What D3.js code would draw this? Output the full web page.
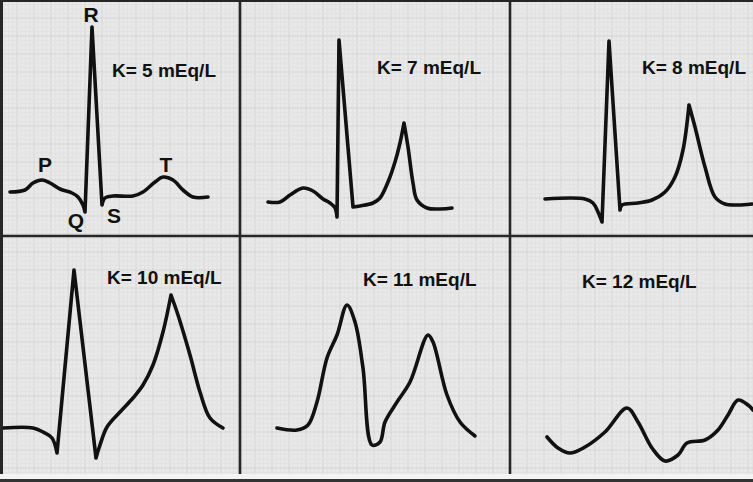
<!DOCTYPE html>
<html>
<head>
<meta charset="utf-8">
<script src="https://cdn.jsdelivr.net/npm/d3@7"></script>
<style>
  body { margin: 0; background: #fff; }
  svg { display: block; }
  text { font-family: "Liberation Sans", Arial, sans-serif; font-weight: bold; fill: #111; }
</style>
</head>
<body>
<svg id="chart" width="753" height="482"></svg>
<script>
var width = 753, height = 482;

// potassium level of each panel, left to right, top to bottom
var kLevels = [5, 7, 8, 10, 11, 12];
var kLabels = ["K= 5 mEq/L", "K= 7 mEq/L", "K= 8 mEq/L", "K= 10 mEq/L", "K= 11 mEq/L", "K= 12 mEq/L"];

// traces: [time ms from panel left, amplitude mV above isoelectric line]
var k5 = [[100,0.05],[250,0.1],[330,0.275],[420,0.35],[500,0.275],[600,0.125],[720,0.025],[780,-0.075],
  [830,-0.275],[850,-0.45],[920,4.175],[1020,-0.275],[1050,-0.1],[1130,-0.05],[1330,-0.05],[1430,0.05],
  [1550,0.3],[1630,0.425],[1730,0.35],[1830,0.1],[1930,-0.075],[2080,-0.075]];
var k7 = [[280,0.075],[400,0.075],[500,0.25],[630,0.425],[730,0.35],[830,0.15],[900,0.05],[950,-0.075],
  [970,-0.3],[990,4.125],[1130,-0.05],[1200,-0.025],[1330,0.05],[1400,0.175],[1480,0.575],[1550,1.075],
  [1600,1.55],[1640,2.05],[1680,1.45],[1730,0.55],[1770,0.125],[1870,-0.075],[2000,-0.1],[2120,-0.075]];
var k8 = [[350,0.1],[750,0.1],[830,0],[880,-0.225],[920,-0.475],[990,4.05],[1100,-0.175],[1120,-0.05],
  [1280,0],[1420,0.075],[1550,0.275],[1650,0.65],[1730,1.325],[1790,2.45],[1850,1.9],[1950,0.9],
  [2050,0.15],[2150,-0.025],[2280,-0.05],[2420,-0.025]];
var k10 = [[30,0],[330,0],[430,-0.1],[520,-0.25],[570,-0.625],[740,3.95],[960,-0.75],[1000,-0.425],
  [1070,0.025],[1200,0.4],[1330,0.75],[1430,1.075],[1530,1.575],[1630,2.4],[1710,3.325],[1780,2.825],
  [1900,1.825],[2000,0.9],[2100,0.25],[2230,0]];
var k11 = [[370,0.05],[570,0],[680,0.125],[770,0.7],[870,1.8],[970,2.375],[1070,3.125],[1150,2.7],
  [1230,1.55],[1320,-0.375],[1400,-0.3],[1450,0.2],[1570,0.7],[1700,1.2],[1880,2.375],[1930,2.2],
  [2070,0.875],[2200,0.2],[2350,-0.15]];
var k12 = [[370,0.075],[480,-0.2],[600,-0.325],[750,-0.175],[950,0.2],[1170,0.8],[1280,0.45],[1420,-0.2],
  [1550,-0.525],[1680,-0.375],[1770,-0.075],[1950,0],[2080,0.25],[2180,0.625],[2280,1.0],[2380,0.875],[2430,0.75]];

var traces = [k5, k7, k8, k10, k11, k12];

// indices of pointed vertices (Q, R, S, peaked T) in each trace
var sharpPoints = [[9,10,11], [8,9,10,17], [4,5,6,13], [4,5,6,14], [], []];

// wave names on the first tracing: [name, time ms, mV]
var waveNames = [["P",450,0.55],["Q",760,-0.85],["R",910,4.3],["S",1140,-0.72],["T",1660,0.55]];

// panel layout
var colLeft = [0, 240, 510];
var baselines = [194, 205, 203, 428, 430, 440];
var labelPos = [[112,77],[377,74],[642,74],[107,284],[363,286],[582,288]];

var svg = d3.select("#chart");

svg.append("rect").attr("width", width).attr("height", height).attr("fill", "#e9e9e9");

// ECG paper grid
var grid = svg.append("g");
d3.range(0, width, 4.25).forEach(function(x, i) {
  grid.append("line").attr("x1", x).attr("x2", x).attr("y1", 0).attr("y2", height)
    .attr("stroke", i % 4 == 0 ? "#d3d3d3" : "#e1e1e1").attr("stroke-width", 1);
});
d3.range(0, height, 4.5).forEach(function(y, i) {
  grid.append("line").attr("x1", 0).attr("x2", width).attr("y1", y).attr("y2", y)
    .attr("stroke", i % 4 == 0 ? "#d5d5d5" : "#e2e2e2").attr("stroke-width", 1);
});

// traces
traces.forEach(function(data, i) {
  var col = i % 3;
  var x = d3.scaleLinear().domain([0, 2400]).range([colLeft[col], colLeft[col] + 240]);
  var y = d3.scaleLinear().domain([0, 1]).range([baselines[i], baselines[i] - 40]);

  var line = d3.line()
    .x(function(d) { return x(d[0]); })
    .y(function(d) { return y(d[1]); })
    .curve(d3.curveCatmullRom.alpha(0.5));

  // smooth pieces that meet at the pointed vertices
  var cuts = [0].concat(sharpPoints[i], [data.length - 1]);
  var d = "";
  for (var c = 0; c < cuts.length - 1; c++) {
    d += line(data.slice(cuts[c], cuts[c + 1] + 1));
  }

  svg.append("path")
    .attr("d", d)
    .attr("fill", "none")
    .attr("stroke", "#111")
    .attr("stroke-width", 3.6)
    .attr("stroke-linejoin", "round")
    .attr("stroke-linecap", "round");

  svg.append("text")
    .attr("x", labelPos[i][0]).attr("y", labelPos[i][1])
    .attr("font-size", 19)
    .text(kLabels[i]);

  if (i == 0) {
    svg.selectAll(".wave").data(waveNames).enter().append("text")
      .attr("class", "wave")
      .attr("x", function(d) { return x(d[1]); })
      .attr("y", function(d) { return y(d[2]); })
      .attr("text-anchor", "middle")
      .attr("font-size", 21)
      .text(function(d) { return d[0]; });
  }
});

// panel dividers and frame
var frame = svg.append("g").attr("stroke", "#262626");
[240, 510].forEach(function(xv) {
  frame.append("line").attr("x1", xv).attr("x2", xv).attr("y1", 0).attr("y2", 478).attr("stroke-width", 2.6);
});
frame.append("line").attr("x1", 0).attr("x2", width).attr("y1", 236).attr("y2", 236).attr("stroke-width", 2.6);
frame.append("line").attr("x1", 1.5).attr("x2", 1.5).attr("y1", 0).attr("y2", height).attr("stroke-width", 3);
frame.append("line").attr("x1", 0).attr("x2", width).attr("y1", 1).attr("y2", 1).attr("stroke-width", 2);
svg.append("rect").attr("x", 0).attr("y", 474).attr("width", width).attr("height", 5).attr("fill", "#f4f4f4");
svg.append("rect").attr("x", 0).attr("y", 479).attr("width", width).attr("height", 3).attr("fill", "#333");
</script>
</body>
</html>
